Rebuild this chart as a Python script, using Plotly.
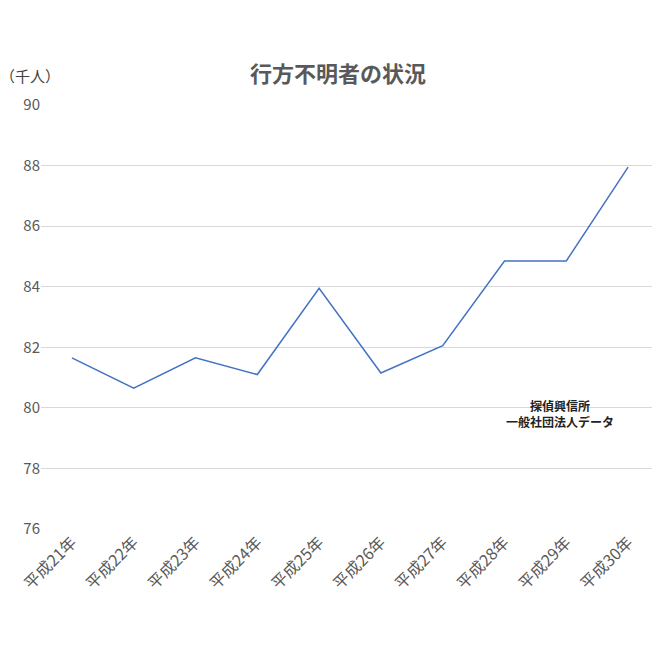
import plotly.graph_objects as go

categories = ["平成21年","平成22年","平成23年","平成24年","平成25年","平成26年","平成27年","平成28年","平成29年","平成30年"]
values = [81.65, 80.65, 81.65, 81.1, 83.95, 81.15, 82.05, 84.85, 84.85, 87.95]

fig = go.Figure(go.Scatter(x=categories, y=values, mode="lines",
                           line=dict(color="#4472C4", width=1.5)))
font = "Noto Sans CJK JP"
fig.update_layout(
    width=660, height=660, margin=dict(l=33, r=9, t=97, b=139),
    plot_bgcolor="white", paper_bgcolor="white", showlegend=False,
    font=dict(family=font, color="#595959", size=14),
    title=dict(text="<b>行方不明者の状況</b>", x=0.5, xanchor="center", y=0.9, yanchor="middle",
               font=dict(size=22, color="#595959", family=font)),
    xaxis=dict(range=[-0.5, 9.5], tickangle=-45, showgrid=False, showline=False, ticks="",
               tickfont=dict(size=16, color="#595959")),
    yaxis=dict(range=[76, 90], dtick=2, showgrid=True, gridcolor="#D9D9D9", zeroline=False,
               ticks="", tickfont=dict(size=15, color="#595959")),
    annotations=[
        dict(text="（千人）", xref="paper", yref="paper", x=-0.07, y=1.07, xanchor="left",
             yanchor="middle", showarrow=False, font=dict(size=15, color="#404040")),
        dict(text="<b>探偵興信所<br>一般社団法人データ</b>", xref="x", yref="y", x=7.9, y=79.8,
             showarrow=False, font=dict(size=12, color="#222222")),
    ],
)
fig.write_html("out.html")
